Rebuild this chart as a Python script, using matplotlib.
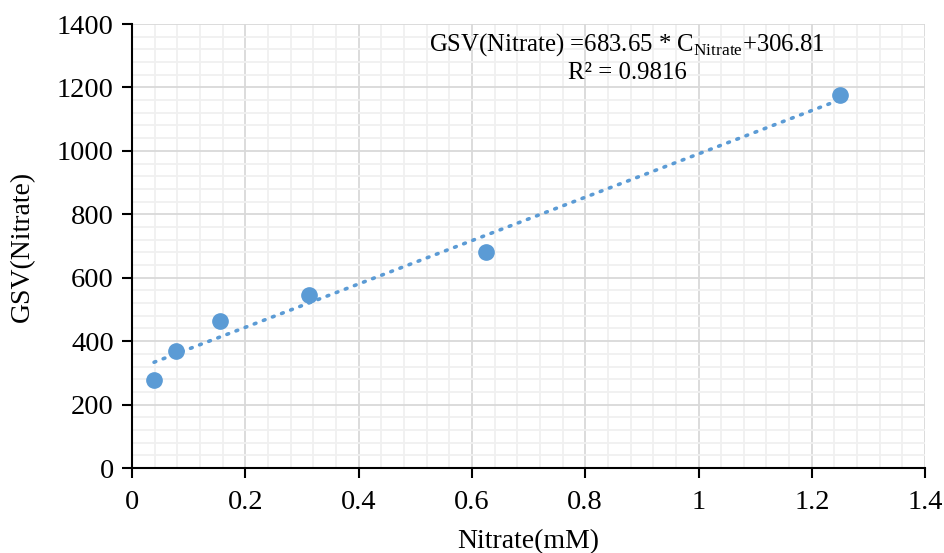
import matplotlib.pyplot as plt
import numpy as np
from matplotlib.ticker import MultipleLocator

plt.rcParams['font.family'] = ['Liberation Serif', 'DejaVu Serif']
plt.rcParams['mathtext.fontset'] = 'custom'
plt.rcParams['mathtext.rm'] = 'Liberation Serif'

# nitrate concentration (mM) and measured GSV
nitrate = [0.039, 0.078, 0.156, 0.3125, 0.625, 1.25]
gsv = [278, 370, 465, 547, 680, 1177]

slope, intercept = 683.65, 306.81
r2 = 0.9816

fig = plt.figure(figsize=(9.44, 5.53), dpi=100)
ax = fig.add_axes([0.1398, 0.1537, 0.8402, 0.8029])

blue = '#5B9BD5'
x_fit = np.array([min(nitrate), max(nitrate)])
ax.plot(x_fit, slope * x_fit + intercept, linestyle=(0, (0.5, 2.2)), color=blue,
        linewidth=2.6, dash_capstyle='round', zorder=3)
ax.plot(nitrate, gsv, 'o', color=blue, markersize=11, zorder=4)

ax.set_xlim(0, 1.4)
ax.set_ylim(0, 1400)
ax.xaxis.set_major_locator(MultipleLocator(0.2))
ax.xaxis.set_minor_locator(MultipleLocator(0.04))
ax.yaxis.set_major_locator(MultipleLocator(200))
ax.yaxis.set_minor_locator(MultipleLocator(40))
ax.set_xticks(np.arange(0, 1.41, 0.2))
ax.set_xticklabels(['0', '0.2', '0.4', '0.6', '0.8', '1', '1.2', '1.4'])

ax.grid(which='major', color='#D9D9D9', linewidth=1.3)
ax.grid(which='minor', color='#F0F0F0', linewidth=1.3)
ax.set_axisbelow(True)

for side in ['top', 'right']:
    ax.spines[side].set_visible(False)
for side in ['left', 'bottom']:
    ax.spines[side].set_linewidth(1.5)
ax.tick_params(which='major', direction='out', length=7, width=1.5, labelsize=20.5)
ax.tick_params(which='minor', length=0)
ax.tick_params(axis='x', pad=9)
ax.tick_params(axis='y', pad=6)

ax.set_xlabel('Nitrate(mM)', fontsize=20, labelpad=10)
ax.set_ylabel('GSV(Nitrate)', fontsize=20, labelpad=16)

ax.text(0.874, 1334, 'GSV(Nitrate) =683.65 * C$_{\\mathrm{Nitrate}}$+306.81',
        ha='center', va='center', fontsize=17.8)
ax.text(0.874, 1246, 'R² = 0.9816', ha='center', va='center', fontsize=17.8)

fig.savefig('out.png', dpi=100)
